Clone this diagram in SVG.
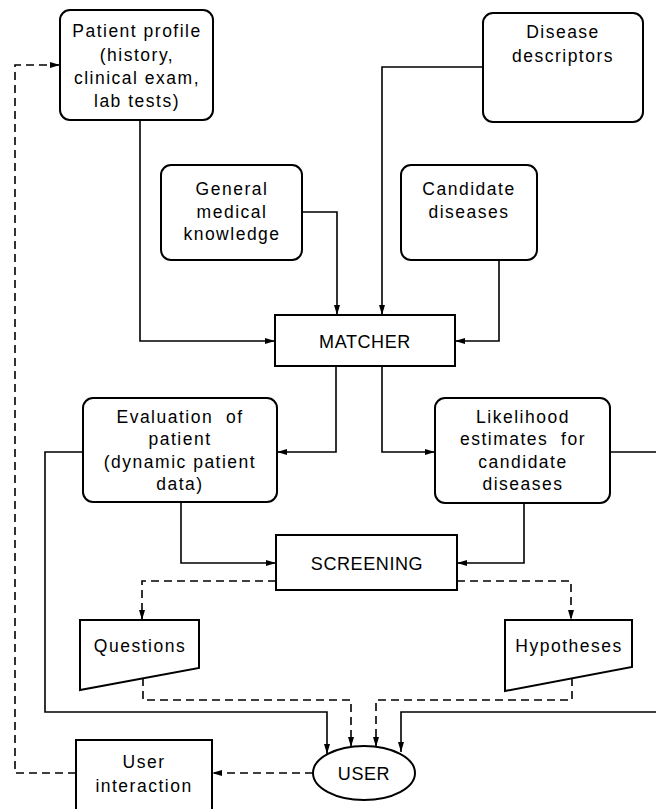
<svg xmlns="http://www.w3.org/2000/svg" width="656" height="809" viewBox="0 0 656 809">
<style>
  .box { fill: #ffffff; stroke: #000; stroke-width: 2; }
  .t { font-family: "Liberation Sans", Arial, sans-serif; font-size: 17.5px; letter-spacing: 1.5px; text-anchor: middle; fill: #000; }
  .tc { font-family: "Liberation Sans", Arial, sans-serif; font-size: 18px; letter-spacing: 0.6px; text-anchor: middle; fill: #000; }
  .c { fill: none; stroke: #000; stroke-width: 1.6; marker-end: url(#arr); }
  .d { stroke-dasharray: 8 5; }
</style>
<defs>
  <marker id="arr" viewBox="0 0 10 6" refX="10" refY="3" markerWidth="10" markerHeight="6" markerUnits="userSpaceOnUse" orient="auto">
    <path d="M0,0 L10,3 L0,6 Z" fill="#000"/>
  </marker>
</defs>
<rect width="656" height="809" fill="#ffffff"/>

<g id="connectors">
  <path class="c" d="M140,120 V341 H275"/>
  <path class="c" d="M483,67 H382 V315"/>
  <path class="c" d="M302,212 H337 V315"/>
  <path class="c" d="M499,260 V341 H455"/>
  <path class="c" d="M336,366 V452 H277"/>
  <path class="c" d="M382,366 V452 H435"/>
  <path class="c" d="M181,502 V563 H276"/>
  <path class="c" d="M524,503 V563 H457"/>
  <path class="c d" d="M276,581 H142 V620"/>
  <path class="c d" d="M457,581 H571 V620"/>
  <path class="c" d="M83,452 H45 V712 H327 V754"/>
  <path class="c" d="M610,452 H662 V712 H401 V752"/>
  <path class="c d" d="M143,678 V700 H351 V747"/>
  <path class="c d" d="M572,678 V700 H376 V747"/>
  <path class="c d" d="M313,773 H212"/>
  <path class="c d" d="M76,773 H15 V65 H60"/>
</g>

<g id="patient-profile">
  <rect class="box" x="60" y="10" width="153" height="110" rx="10"/>
  <text class="t" x="137" y="37">Patient profile</text>
  <text class="t" x="137" y="61">(history,</text>
  <text class="t" x="137" y="84">clinical exam,</text>
  <text class="t" x="137" y="107">lab tests)</text>
</g>

<g id="disease-descriptors">
  <rect class="box" x="483" y="13" width="160" height="109" rx="10"/>
  <text class="t" x="563" y="38">Disease</text>
  <text class="t" x="563" y="62">descriptors</text>
</g>

<g id="general-medical-knowledge">
  <rect class="box" x="161" y="165" width="141" height="95" rx="10"/>
  <text class="t" x="232" y="195">General</text>
  <text class="t" x="232" y="218">medical</text>
  <text class="t" x="232" y="240">knowledge</text>
</g>

<g id="candidate-diseases">
  <rect class="box" x="401" y="165" width="136" height="95" rx="10"/>
  <text class="t" x="469" y="195">Candidate</text>
  <text class="t" x="469" y="218">diseases</text>
</g>

<g id="matcher">
  <rect class="box" x="275" y="315" width="180" height="51"/>
  <text class="tc" x="365" y="348">MATCHER</text>
</g>

<g id="evaluation">
  <rect class="box" x="83" y="398" width="194" height="104" rx="10"/>
  <text class="t" x="180" y="423" xml:space="preserve">Evaluation  of</text>
  <text class="t" x="180" y="445">patient</text>
  <text class="t" x="180" y="468">(dynamic patient</text>
  <text class="t" x="180" y="490">data)</text>
</g>

<g id="likelihood">
  <rect class="box" x="435" y="398" width="175" height="105" rx="10"/>
  <text class="t" x="523" y="423">Likelihood</text>
  <text class="t" x="523" y="445" xml:space="preserve">estimates  for</text>
  <text class="t" x="523" y="468">candidate</text>
  <text class="t" x="523" y="490">diseases</text>
</g>

<g id="screening">
  <rect class="box" x="276" y="535" width="181" height="55"/>
  <text class="tc" x="367" y="570">SCREENING</text>
</g>

<g id="questions">
  <path class="box" d="M80,620 H199 V668 L80,690 Z"/>
  <text class="t" x="140" y="652">Questions</text>
</g>

<g id="hypotheses">
  <path class="box" d="M505,620 H632 V667 L505,691 Z"/>
  <text class="t" x="569" y="652">Hypotheses</text>
</g>

<g id="user">
  <ellipse class="box" cx="364" cy="773" rx="51" ry="27"/>
  <text class="tc" x="364" y="780">USER</text>
</g>

<g id="user-interaction">
  <rect class="box" x="76" y="740" width="136" height="80"/>
  <text class="t" x="144" y="768">User</text>
  <text class="t" x="144" y="792">interaction</text>
</g>
</svg>
